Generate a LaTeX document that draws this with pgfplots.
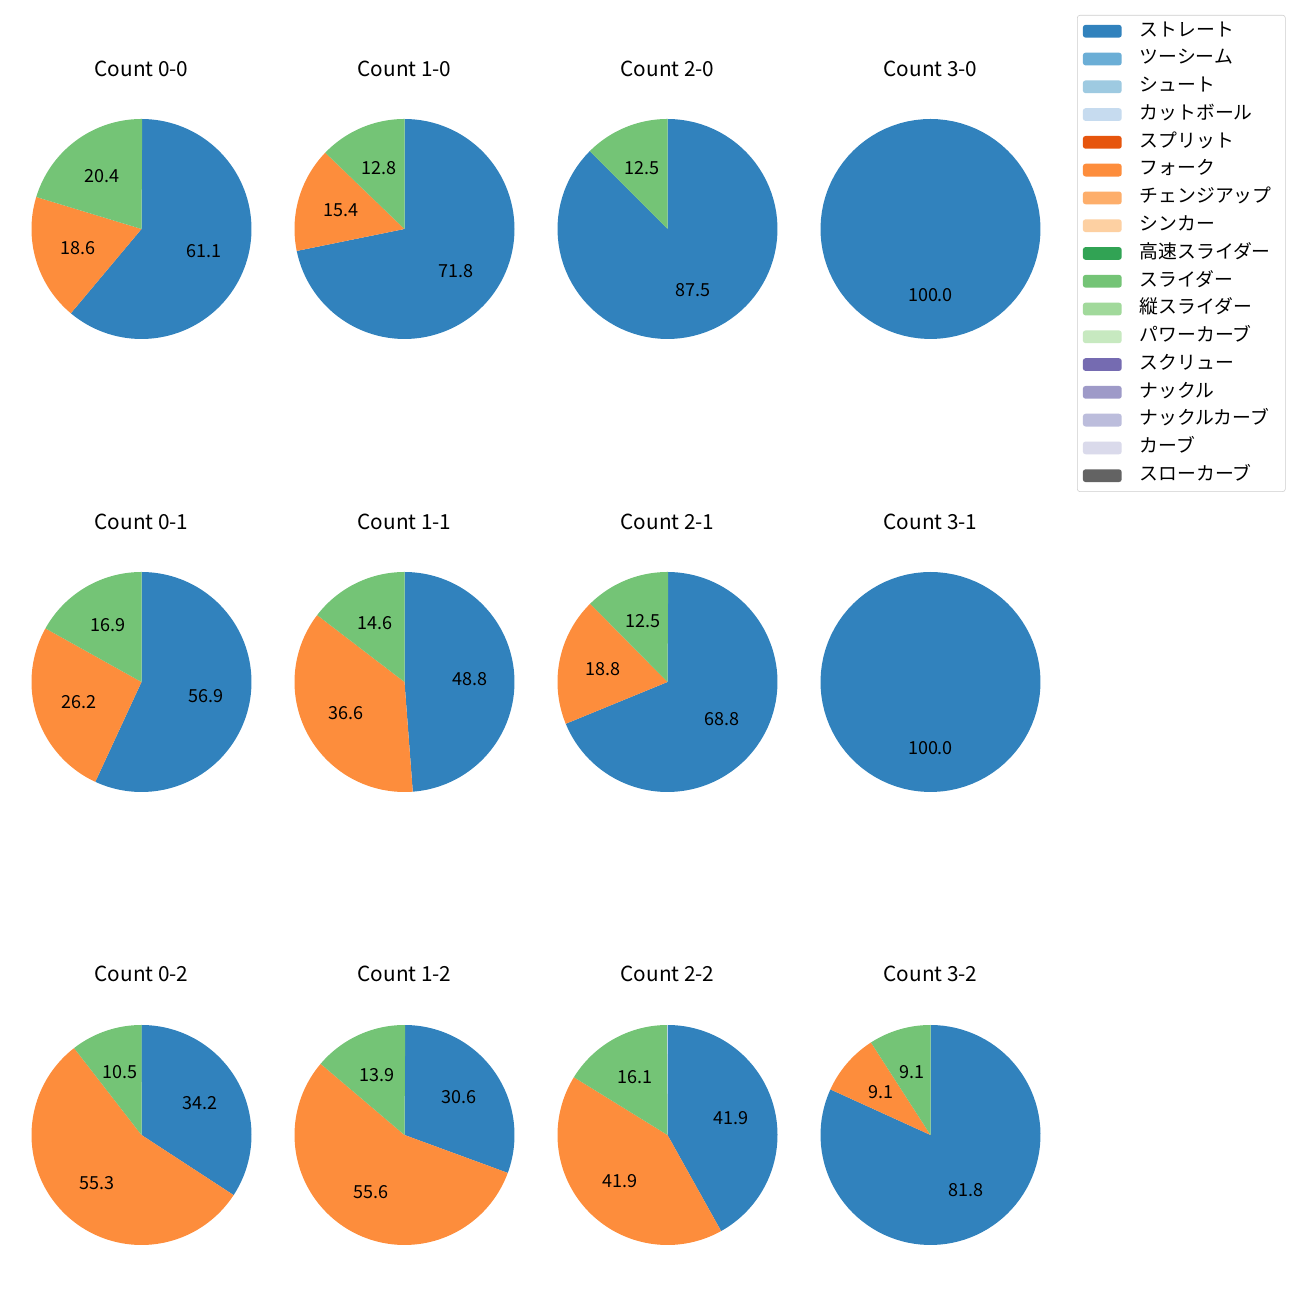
\documentclass[border=0pt]{standalone}
\usepackage{pgfplots}
\pgfplotsset{compat=1.18}
\usepackage{fontspec}
\setmainfont{Noto Sans CJK JP}
\definecolor{c1}{HTML}{3182BD}
\definecolor{c2}{HTML}{6BAED6}
\definecolor{c3}{HTML}{9ECAE1}
\definecolor{c4}{HTML}{C6DBEF}
\definecolor{c5}{HTML}{E6550D}
\definecolor{c6}{HTML}{FD8D3C}
\definecolor{c7}{HTML}{FDAE6B}
\definecolor{c8}{HTML}{FDD0A2}
\definecolor{c9}{HTML}{31A354}
\definecolor{c10}{HTML}{74C476}
\definecolor{c11}{HTML}{A1D99B}
\definecolor{c12}{HTML}{C7E9C0}
\definecolor{c13}{HTML}{756BB1}
\definecolor{c14}{HTML}{9E9AC8}
\definecolor{c15}{HTML}{BCBDDC}
\definecolor{c16}{HTML}{DADAEB}
\definecolor{c17}{HTML}{636363}
\newcommand{\pctfont}{\fontsize{13}{15}\selectfont}
\newcommand{\ttlfont}{\fontsize{15}{18}\selectfont}
% #1 cx, #2 cy, #3 cumulative pct before, #4 pct, #5 colour
\newcommand{\slice}[5]{%
  \pgfmathsetmacro\aS{90-3.6*#3}%
  \pgfmathsetmacro\aE{90-3.6*(#3+#4)}%
  \pgfmathsetmacro\aM{(\aS+\aE)/2}%
  \pgfmathsetmacro\lx{#1+66*cos(\aM)}%
  \pgfmathsetmacro\ly{#2+66*sin(\aM)}%
  \edef\doit{\noexpand\addplot[fill=#5, draw=none, domain=\aE:\aS, samples=90]
    ({#1+110*cos(x)},{#2+110*sin(x)}) -- (axis cs:#1,#2) -- cycle;
    \noexpand\node[font=\noexpand\pctfont, inner sep=0pt] at (axis cs:\lx,\ly) {#4};}%
  \doit}
\newcommand{\ttl}[3]{\node[font=\ttlfont, inner sep=0pt] at (axis cs:#1,#2) {#3};}
\begin{document}
\begin{tikzpicture}
\begin{axis}[
  width=936bp, height=936bp, scale only axis,
  xmin=0, xmax=1300, ymin=0, ymax=1300,
  hide axis, clip=false,
  legend image code/.code={\fill[#1, draw=none] (0bp,-4.6bp) rectangle (28bp,4.6bp);},
  legend style={at={(axis cs:1077,1285)}, anchor=north west,
    draw=black!20, rounded corners=2bp, fill=white,
    inner xsep=4bp, inner ysep=1.5bp,
    font=\fontsize{13.6}{16}\selectfont,
    cells={anchor=west},
    nodes={text height=10bp, text depth=3bp, inner ysep=3.5bp, inner xsep=6bp},
    column sep=0bp, row sep=0bp},
  legend cell align=left,
  legend image post style={xshift=0bp},
]
\path (axis cs:0,0) rectangle (axis cs:1300,1300);
\addlegendimage{fill=c1}\addlegendentry{\hspace{7bp}ストレート}
\addlegendimage{fill=c2}\addlegendentry{\hspace{7bp}ツーシーム}
\addlegendimage{fill=c3}\addlegendentry{\hspace{7bp}シュート}
\addlegendimage{fill=c4}\addlegendentry{\hspace{7bp}カットボール}
\addlegendimage{fill=c5}\addlegendentry{\hspace{7bp}スプリット}
\addlegendimage{fill=c6}\addlegendentry{\hspace{7bp}フォーク}
\addlegendimage{fill=c7}\addlegendentry{\hspace{7bp}チェンジアップ}
\addlegendimage{fill=c8}\addlegendentry{\hspace{7bp}シンカー}
\addlegendimage{fill=c9}\addlegendentry{\hspace{7bp}高速スライダー}
\addlegendimage{fill=c10}\addlegendentry{\hspace{7bp}スライダー}
\addlegendimage{fill=c11}\addlegendentry{\hspace{7bp}縦スライダー}
\addlegendimage{fill=c12}\addlegendentry{\hspace{7bp}パワーカーブ}
\addlegendimage{fill=c13}\addlegendentry{\hspace{7bp}スクリュー}
\addlegendimage{fill=c14}\addlegendentry{\hspace{7bp}ナックル}
\addlegendimage{fill=c15}\addlegendentry{\hspace{7bp}ナックルカーブ}
\addlegendimage{fill=c16}\addlegendentry{\hspace{7bp}カーブ}
\addlegendimage{fill=c17}\addlegendentry{\hspace{7bp}スローカーブ}

% Row 1 (cy = 1071)
\ttl{141.5}{1231}{Count 0-0}
\slice{141.5}{1071}{0}{61.1}{c1}
\slice{141.5}{1071}{61.1}{18.6}{c6}
\slice{141.5}{1071}{79.7}{20.4}{c10}
\ttl{404.5}{1231}{Count 1-0}
\slice{404.5}{1071}{0}{71.8}{c1}
\slice{404.5}{1071}{71.8}{15.4}{c6}
\slice{404.5}{1071}{87.2}{12.8}{c10}
\ttl{667.5}{1231}{Count 2-0}
\slice{667.5}{1071}{0}{87.5}{c1}
\slice{667.5}{1071}{87.5}{12.5}{c10}
\ttl{930.5}{1231}{Count 3-0}
\slice{930.5}{1071}{0}{100.0}{c1}

% Row 2 (cy = 618)
\ttl{141.5}{778}{Count 0-1}
\slice{141.5}{618}{0}{56.9}{c1}
\slice{141.5}{618}{56.9}{26.2}{c6}
\slice{141.5}{618}{83.1}{16.9}{c10}
\ttl{404.5}{778}{Count 1-1}
\slice{404.5}{618}{0}{48.8}{c1}
\slice{404.5}{618}{48.8}{36.6}{c6}
\slice{404.5}{618}{85.4}{14.6}{c10}
\ttl{667.5}{778}{Count 2-1}
\slice{667.5}{618}{0}{68.8}{c1}
\slice{667.5}{618}{68.8}{18.8}{c6}
\slice{667.5}{618}{87.6}{12.5}{c10}
\ttl{930.5}{778}{Count 3-1}
\slice{930.5}{618}{0}{100.0}{c1}

% Row 3 (cy = 165)
\ttl{141.5}{326}{Count 0-2}
\slice{141.5}{165}{0}{34.2}{c1}
\slice{141.5}{165}{34.2}{55.3}{c6}
\slice{141.5}{165}{89.5}{10.5}{c10}
\ttl{404.5}{326}{Count 1-2}
\slice{404.5}{165}{0}{30.6}{c1}
\slice{404.5}{165}{30.6}{55.6}{c6}
\slice{404.5}{165}{86.2}{13.9}{c10}
\ttl{667.5}{326}{Count 2-2}
\slice{667.5}{165}{0}{41.9}{c1}
\slice{667.5}{165}{41.9}{41.9}{c6}
\slice{667.5}{165}{83.8}{16.1}{c10}
\ttl{930.5}{326}{Count 3-2}
\slice{930.5}{165}{0}{81.8}{c1}
\slice{930.5}{165}{81.8}{9.1}{c6}
\slice{930.5}{165}{90.9}{9.1}{c10}
\end{axis}
\end{tikzpicture}
\end{document}
